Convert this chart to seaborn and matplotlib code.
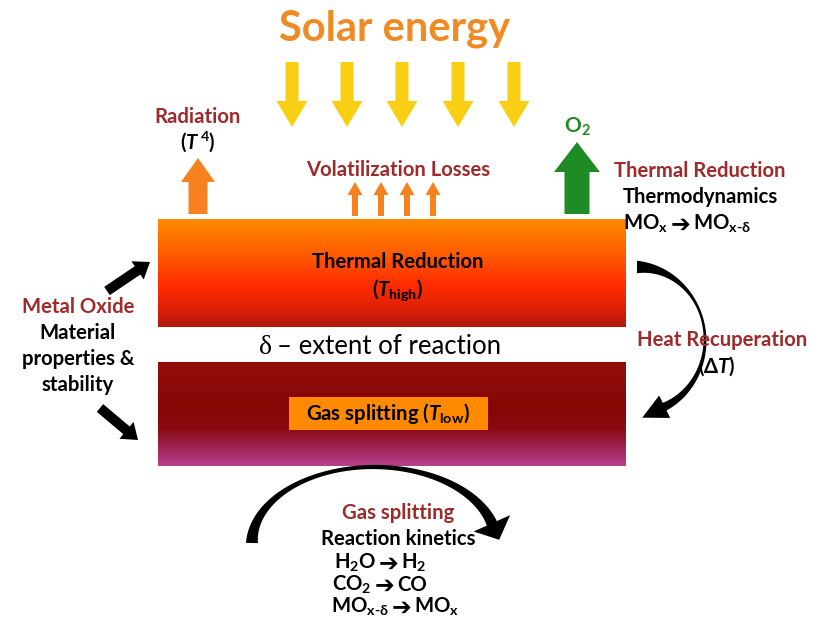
import numpy as np
import matplotlib
matplotlib.use("Agg")
import matplotlib.pyplot as plt
import seaborn as sns
from matplotlib.patches import Polygon, Rectangle, FancyArrow
from matplotlib.colors import LinearSegmentedColormap

sns.set_theme(style="white")
plt.rcParams['font.family'] = ['Lato', 'DejaVu Sans']
plt.rcParams['mathtext.fontset'] = 'custom'
plt.rcParams['mathtext.rm'] = 'Lato:bold'
plt.rcParams['mathtext.it'] = 'Lato:italic:bold'
plt.rcParams['mathtext.bf'] = 'Lato:bold'

ARROW_CHAR = "\u2794"

# ---- text content ----
title = "Solar energy"
radiation_labels = ["Radiation", r"($\mathit{T}^{\,4}$)"]
volat_label = "Volatilization Losses"
o2_label = r"O$_\mathrm{2}$"
tr_right_labels = ["Thermal Reduction", "Thermodynamics"]
tr_right_eq = (r"MO$_\mathrm{x}$", r"MO$_{\mathrm{x\text{-}\delta}}$")
top_block_labels = ["Thermal Reduction", r"($\mathit{T}_{\mathrm{high}}$)"]
delta_labels = ["δ", "– extent of reaction"]
gas_box_label = r"Gas splitting ($\mathit{T}_{\mathrm{low}}$)"
metal_labels = ["Metal Oxide", "Material", "properties &", "stability"]
heat_labels = ["Heat Recuperation", r"($\mathrm{\Delta}\mathit{T}$)"]
gas_labels = ["Gas splitting", "Reaction kinetics"]
gas_eqs = [(r"H$_\mathrm{2}$O", r"H$_\mathrm{2}$"),
           (r"CO$_\mathrm{2}$", r"CO"),
           (r"MO$_{\mathrm{x\text{-}\delta}}$", r"MO$_\mathrm{x}$")]

DARKRED = "#9E2A2B"
ORANGE = "#F6821F"
GREEN = "#1F8B24"
YELLOW = "#F8CF12"
FS = 14.6

fig = plt.figure(figsize=(8.23, 6.20), dpi=100)
ax = fig.add_axes([0, 0, 1, 1])
ax.axis('off')


def gradient(ax, x0, x1, y0, y1, colors, stops):
    cmap = LinearSegmentedColormap.from_list("g", list(zip(stops, colors)))
    g = np.linspace(0, 1, 256).reshape(-1, 1)
    ax.imshow(g, extent=(x0, x1, y1, y0), origin='upper', cmap=cmap,
              aspect='auto', interpolation='bicubic', zorder=1)


def curved_arrow(ax, xs, ys, widths, head_w, head_l, color):
    P = np.column_stack([xs, ys])
    d = np.gradient(P, axis=0)
    T = d / np.linalg.norm(d, axis=1)[:, None]
    N = np.column_stack([-T[:, 1], T[:, 0]])
    L = P + N * widths[:, None] / 2
    R = P - N * widths[:, None] / 2
    tip = P[-1] + T[-1] * head_l
    w1 = P[-1] + N[-1] * head_w / 2
    w2 = P[-1] - N[-1] * head_w / 2
    poly = np.vstack([L, w1, tip, w2, R[::-1]])
    ax.add_patch(Polygon(poly, closed=True, color=color, zorder=3, lw=0))


def arrow(ax, x, y, dx, dy, w, hw, hl, color):
    ax.add_patch(FancyArrow(x, y, dx, dy, width=w, head_width=hw, head_length=hl,
                            length_includes_head=True, color=color, lw=0, zorder=3))


def label(x, y, s, color='black', fs=FS, ha='center'):
    ax.text(x, y, s, ha=ha, va='center', fontsize=fs,
            fontweight='bold', color=color, zorder=5)


def equation(xc, y, left, right):
    label(xc - 13, y, left, ha='right')
    ax.text(xc, y + 1, ARROW_CHAR, ha='center', va='center', fontsize=17,
            family='DejaVu Sans', fontweight='bold', color='black', zorder=5)
    label(xc + 12, y, right, ha='left')


# blocks
gradient(ax, 158, 626, 219, 327,
         ["#FF8A00", "#FF5800", "#FF2A00", "#E02208", "#B0180E"],
         [0, 0.35, 0.62, 0.82, 1])
gradient(ax, 158, 626, 362, 466,
         ["#930E0C", "#860606", "#8A0A12", "#A32A62", "#B5428C"],
         [0, 0.45, 0.64, 0.86, 1])
ax.add_patch(Rectangle((289, 397), 199, 33, color="#FF8A00", zorder=2, lw=0))

# title
label(395, 29, title, color="#F08A24", fs=30)

# solar arrows
for x in [292, 347, 402, 458, 514]:
    arrow(ax, x, 62, 0, 65, 13, 31, 26, YELLOW)

# radiation
arrow(ax, 198, 214, 0, -56, 19, 34, 24, ORANGE)
label(198, 117, radiation_labels[0], DARKRED)
label(198, 142, radiation_labels[1])

# volatilization
for x in [355, 381, 407, 433]:
    arrow(ax, x, 216, 0, -34, 6, 15, 13, ORANGE)
label(398, 170, volat_label, DARKRED)

# O2
arrow(ax, 577, 214, 0, -72, 25, 46, 30, GREEN)
label(577, 127, o2_label, GREEN, fs=15)

# right thermal reduction text
for lab, y, c in zip(tr_right_labels, [171, 197], [DARKRED, 'black']):
    label(700, y, lab, c)
equation(681, 224, *tr_right_eq)

# top block texts
label(398, 262, top_block_labels[0])
label(398, 290, top_block_labels[1])

# delta
ax.text(266, 347, delta_labels[0], ha='center', va='center', fontsize=20,
        family='Liberation Serif', color='black')
ax.text(277, 347, delta_labels[1], ha='left', va='center', fontsize=18.5,
        color='black')

# gas splitting box
label(388, 413, gas_box_label)

# metal oxide
for lab, y, c in zip(metal_labels, [307, 333, 359, 385],
                     [DARKRED, 'black', 'black', 'black']):
    label(78, y, lab, c)
arrow(ax, 107, 291, 43, -29, 10, 22, 15, 'black')
arrow(ax, 100, 408, 38, 32, 10, 22, 15, 'black')

# heat recuperation arc
th = np.radians(np.linspace(-90, 66, 150))
t = np.linspace(0, 1, 150)
w = np.where(t < 0.45, 2.5 + 10 * (1 - t / 0.45) ** 2, 2.5 + 6 * ((t - 0.45) / 0.55) ** 2)
curved_arrow(ax, 637 + 68 * np.cos(th), 340 + 73 * np.sin(th), w, 25, 25, 'black')
label(722, 340, heat_labels[0], DARKRED)
label(717, 366, heat_labels[1])

# gas splitting arc
ph = np.radians(np.linspace(180, 15, 150))
w = np.where(t < 0.45, 4 + 8 * (1 - t / 0.45) ** 2, 4 + 7 * ((t - 0.45) / 0.55) ** 2)
curved_arrow(ax, 374 + 122 * np.cos(ph), 543 - 76 * np.sin(ph), w, 40, 18, 'black')
for lab, y, c in zip(gas_labels, [513, 539], [DARKRED, 'black']):
    label(398, y, lab, c)
for (lft, rgt), y, xc in zip(gas_eqs, [563, 585, 607], [389, 385, 402]):
    equation(xc, y, lft, rgt)

ax.set_xlim(0, 823)
ax.set_ylim(620, 0)
fig.savefig("out.png", dpi=100, facecolor='white')
